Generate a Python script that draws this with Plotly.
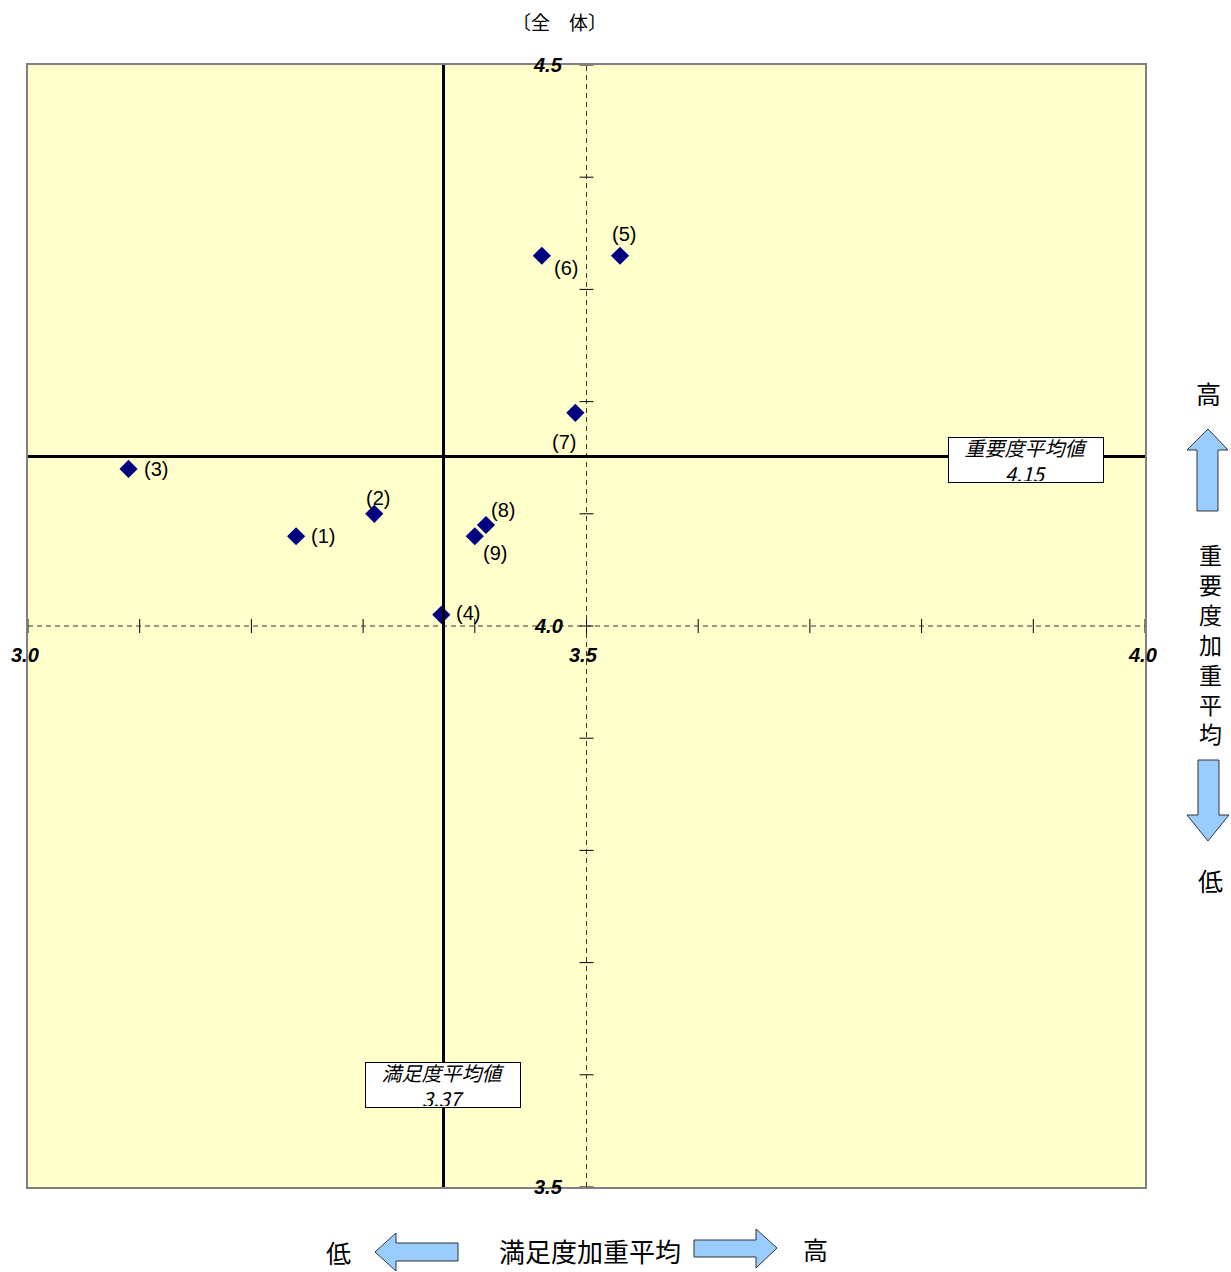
import plotly.graph_objects as go

# ---- data ----
labels = ["(1)", "(2)", "(3)", "(4)", "(5)", "(6)", "(7)", "(8)", "(9)"]
satisfaction = [3.24, 3.31, 3.09, 3.37, 3.53, 3.46, 3.49, 3.41, 3.40]
importance = [4.08, 4.10, 4.14, 4.01, 4.33, 4.33, 4.19, 4.09, 4.08]
mean_satisfaction = 3.372
mean_importance = 4.151
x_ticks = [3.0, 3.1, 3.2, 3.3, 3.4, 3.5, 3.6, 3.7, 3.8, 3.9, 4.0]
y_ticks = [3.5, 3.6, 3.7, 3.8, 3.9, 4.0, 4.1, 4.2, 4.3, 4.4, 4.5]
x_tick_labels = ["3.0", "3.5", "4.0"]
y_tick_labels = ["3.5", "4.0", "4.5"]
x_range = [3.0, 4.0]
y_range = [3.5, 4.5]
x_cross = 3.5
y_cross = 4.0

# ---- layout constants ----
W, H = 1231, 1272
L, R, T, B = 28, 1145, 65, 1187
FONT = "Liberation Sans, Arial, Noto Sans CJK JP"
CJK = "Noto Sans CJK JP, Liberation Sans"

def px(x):
    return (x - L) / (R - L)

def py(y):
    return (B - y) / (B - T)

label_offsets = [(27, 0), (4, 16), (27, 0), (27, 2), (4, 22), (24, -12), (-11, -29), (17, 15), (20, -17)]

fig = go.Figure()

# tick marks on the crossing axes
fig.add_trace(go.Scatter(
    x=x_ticks, y=[y_cross] * len(x_ticks), mode="markers",
    marker=dict(symbol="line-ns", size=10, line=dict(color="black", width=1)),
    hoverinfo="skip", showlegend=False, cliponaxis=False))
fig.add_trace(go.Scatter(
    x=[x_cross] * len(y_ticks), y=y_ticks, mode="markers",
    marker=dict(symbol="line-ew", size=10, line=dict(color="black", width=1)),
    hoverinfo="skip", showlegend=False, cliponaxis=False))

# data points
fig.add_trace(go.Scatter(
    x=satisfaction, y=importance, mode="markers",
    marker=dict(symbol="diamond", size=14, color="#000080"),
    showlegend=False, cliponaxis=False))

shapes = []
# dashed crossing axes
shapes.append(dict(type="line", xref="x", yref="y", x0=x_range[0], x1=x_range[1], y0=y_cross, y1=y_cross,
                   line=dict(color="#333333", width=1, dash="5px,4px")))
shapes.append(dict(type="line", xref="x", yref="y", x0=x_cross, x1=x_cross, y0=y_range[0], y1=y_range[1],
                   line=dict(color="#333333", width=1, dash="5px,4px")))
# mean lines
shapes.append(dict(type="line", xref="x", yref="y", x0=x_range[0], x1=x_range[1], y0=mean_importance, y1=mean_importance,
                   line=dict(color="black", width=3)))
shapes.append(dict(type="line", xref="x", yref="y", x0=mean_satisfaction, x1=mean_satisfaction, y0=y_range[0], y1=y_range[1],
                   line=dict(color="black", width=3)))

def poly(points):
    d = "M " + " L ".join(f"{px(a):.5f},{py(b):.5f}" for a, b in points) + " Z"
    return dict(type="path", xref="paper", yref="paper", path=d,
                fillcolor="#99CCFF", line=dict(color="#333333", width=1), layer="above")

# bottom left arrow
shapes.append(poly([(375, 1252), (396, 1233), (396, 1243), (458, 1243), (458, 1261), (396, 1261), (396, 1271)]))
# bottom right arrow
shapes.append(poly([(777, 1248), (756, 1229), (756, 1240), (694, 1240), (694, 1257), (756, 1257), (756, 1268)]))
# right up arrow
shapes.append(poly([(1208, 429), (1187, 450), (1197, 450), (1197, 511), (1218, 511), (1218, 450), (1228, 450)]))
# right down arrow
shapes.append(poly([(1208, 841), (1187, 815), (1198, 815), (1198, 760), (1219, 760), (1219, 815), (1229, 815)]))

annotations = []
for lab, xv, yv, (dx, dy) in zip(labels, satisfaction, importance, label_offsets):
    annotations.append(dict(x=xv, y=yv, xref="x", yref="y", text=lab, showarrow=False,
                            xanchor="center", yanchor="middle",
                            xshift=dx, yshift=dy, font=dict(family=FONT, size=20, color="black")))

# tick labels
for t, v in zip(x_tick_labels, [3.0, 3.5, 4.0]):
    annotations.append(dict(x=float(v), y=y_cross, xref="x", yref="y", text=f"<b><i>{t}</i></b>", showarrow=False,
                            xanchor="center", yanchor="middle",
                            xshift=-3, yshift=-29, font=dict(family=FONT, size=20, color="black")))
for t, v in zip(y_tick_labels, [3.5, 4.0, 4.5]):
    annotations.append(dict(x=x_cross, y=float(v), xref="x", yref="y", text=f"<b><i>{t}</i></b>", showarrow=False,
                            xanchor="right", yanchor="middle", xshift=-22, yshift=0,
                            font=dict(family=FONT, size=20, color="black")))

def txt(xp, yp, text, size, **kw):
    d = dict(x=px(xp), y=py(yp), xref="paper", yref="paper", text=text, showarrow=False,
             xanchor="center", yanchor="middle", font=dict(family=CJK, size=size, color="black"))
    d.update(kw)
    return d

# mean boxes
annotations.append(txt(1026, 460, f"<i>重要度平均値</i><br><i>{mean_importance:.2f}</i>", 20,
                       bgcolor="white", bordercolor="black", borderwidth=1, width=152, height=42))
annotations.append(txt(443, 1085, f"<i>満足度平均値</i><br><i>{mean_satisfaction:.2f}</i>", 20,
                       bgcolor="white", bordercolor="black", borderwidth=1, width=152, height=42))

# title
annotations.append(txt(559, 22, "〔全　体〕", 19))
# bottom axis title
annotations.append(txt(338, 1252, "低", 25))
annotations.append(txt(590, 1250, "満足度加重平均", 26))
annotations.append(txt(815, 1249, "高", 25))
# right axis title
annotations.append(txt(1208, 393, "高", 25))
annotations.append(txt(1210, 643, "<br>".join(list("重要度加重平均")), 23))
annotations.append(txt(1210, 880, "低", 25))

fig.update_layout(
    width=W, height=H,
    margin=dict(l=L, r=W - R, t=T, b=H - B, pad=0),
    paper_bgcolor="white", plot_bgcolor="#FFFFCC",
    xaxis=dict(range=x_range, showgrid=False, zeroline=False, showticklabels=False, ticks="",
               showline=True, mirror=True, linecolor="#808080", linewidth=2, fixedrange=True),
    yaxis=dict(range=y_range, showgrid=False, zeroline=False, showticklabels=False, ticks="",
               showline=True, mirror=True, linecolor="#808080", linewidth=2, fixedrange=True),
    shapes=shapes, annotations=annotations, showlegend=False,
)

fig.write_html("out.html", config={"displayModeBar": False},
               post_script="document.body.style.margin='0px';")
